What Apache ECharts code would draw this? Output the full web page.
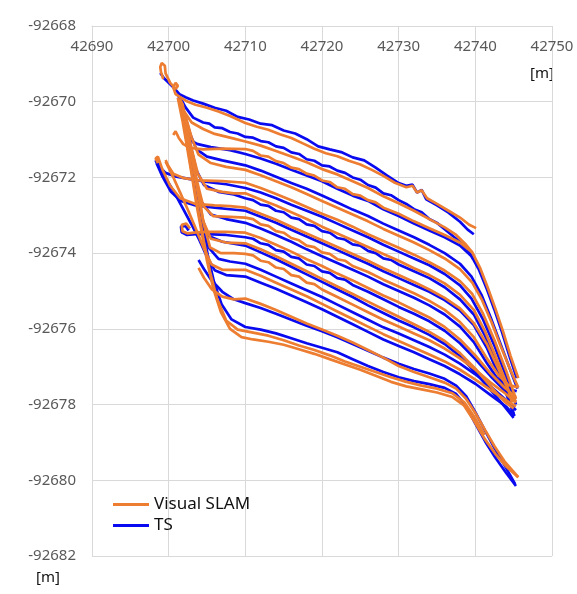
<!DOCTYPE html>
<html>
<head>
<meta charset="utf-8">
<script src="https://cdn.jsdelivr.net/npm/echarts@6/dist/echarts.min.js"></script>
<style>html,body{margin:0;padding:0;background:#fff}#chart{width:577px;height:594px}</style>
</head>
<body>
<div id="chart"></div>
<script>
// ---- axis ticks ----
const xTicks = [42690, 42700, 42710, 42720, 42730, 42740, 42750];
const yTicks = [-92682, -92680, -92678, -92676, -92674, -92672, -92670, -92668];
const seriesNames = ['Visual SLAM', 'TS'];

// ---- TS tracks [x, y] in metres ----
const tsTrack1 = [[42698.9,-92669.24],[42699.4,-92669.38],[42700.1,-92669.52],[42700.8,-92669.66],[42701.4,-92669.80],[42702.2,-92669.88],[42703.2,-92669.97],[42704.5,-92670.05],[42706,-92670.16],[42707.5,-92670.24],[42709,-92670.40],[42710.5,-92670.47],[42712,-92670.58],[42713.5,-92670.62],[42715,-92670.76],[42716.5,-92670.84],[42718,-92670.99],[42719.5,-92671.18],[42721,-92671.26],[42722.5,-92671.33],[42724,-92671.47],[42725.5,-92671.55],[42727,-92671.74],[42728.5,-92671.95],[42730,-92672.15],[42731,-92672.22],[42731.8,-92672.19],[42732.4,-92672.40],[42733,-92672.33],[42733.6,-92672.58],[42735,-92672.74],[42736.5,-92672.93],[42738,-92673.17],[42739,-92673.38],[42739.8,-92673.50]];
const tsTrack2 = [[42701.4,-92669.85],[42702.2,-92670.15],[42703.2,-92670.42],[42704.5,-92670.55],[42705.3,-92670.58],[42706,-92670.68],[42707,-92670.70],[42708,-92670.80],[42709,-92670.84],[42710,-92670.93],[42711,-92670.95],[42712,-92671.04],[42713,-92671.07],[42714,-92671.18],[42715,-92671.22],[42716,-92671.34],[42717,-92671.38],[42718,-92671.52],[42719,-92671.56],[42720,-92671.68],[42721,-92671.71],[42722,-92671.82],[42723,-92671.88],[42724,-92672.00],[42725,-92672.06],[42726,-92672.20],[42727,-92672.27],[42728,-92672.42],[42729,-92672.47],[42730,-92672.60],[42731,-92672.70],[42732,-92672.84],[42733,-92672.92],[42734,-92673.10],[42735,-92673.20],[42736,-92673.37],[42737.5,-92673.62],[42739,-92673.90],[42739.7,-92674.15]];
const tsTrack3 = [[42701.9,-92670.54],[42702.2,-92670.80],[42702.8,-92671.02],[42703.8,-92671.12],[42705.5,-92671.20],[42708,-92671.28],[42710,-92671.38],[42712,-92671.50],[42714,-92671.64],[42716,-92671.80],[42718,-92671.95],[42720,-92672.10],[42722,-92672.30],[42724,-92672.48],[42726,-92672.62],[42728,-92672.84],[42730,-92673.02],[42732,-92673.22],[42734,-92673.40],[42736,-92673.58],[42738,-92673.80],[42739.5,-92674.08],[42740.5,-92674.45],[42741.5,-92674.95],[42742.5,-92675.50],[42743.5,-92676.10],[42744.5,-92676.75],[42745.4,-92677.30]];
const tsTrack4 = [[42701.4,-92669.90],[42702.1,-92670.35],[42702.8,-92670.85],[42703.6,-92671.25],[42705,-92671.45],[42707,-92671.55],[42710,-92671.68],[42712,-92671.82],[42714,-92671.98],[42716,-92672.15],[42718,-92672.30],[42720,-92672.48],[42722,-92672.66],[42724,-92672.85],[42726,-92673.02],[42728,-92673.22],[42730,-92673.40],[42732,-92673.58],[42734,-92673.78],[42736,-92674.00],[42738,-92674.28],[42739.5,-92674.62],[42740.8,-92675.10],[42742,-92675.70],[42743.2,-92676.35],[42744.4,-92677.00],[42745.5,-92677.58]];
const tsTrack5 = [[42698.3,-92671.54],[42698.8,-92671.72],[42699.6,-92671.88],[42701,-92671.98],[42703,-92672.05],[42705,-92672.12],[42707.5,-92672.18],[42710,-92672.28],[42712,-92672.40],[42714,-92672.55],[42716,-92672.72],[42718,-92672.88],[42720,-92673.04],[42722,-92673.22],[42724,-92673.40],[42726,-92673.58],[42728,-92673.78],[42730,-92673.96],[42732,-92674.14],[42734,-92674.32],[42736,-92674.55],[42738,-92674.85],[42739.5,-92675.20],[42741,-92675.75],[42742.5,-92676.45],[42744,-92677.25],[42745.3,-92678.00]];
const tsTrack6 = [[42701.5,-92669.95],[42702.2,-92670.55],[42702.9,-92671.20],[42703.6,-92671.80],[42704.6,-92672.20],[42706.5,-92672.38],[42708.5,-92672.45],[42710,-92672.55],[42711,-92672.60],[42712,-92672.72],[42713,-92672.75],[42714,-92672.88],[42715,-92672.92],[42716,-92673.06],[42717,-92673.10],[42718,-92673.24],[42719,-92673.28],[42720,-92673.42],[42721,-92673.46],[42722,-92673.60],[42723,-92673.64],[42724,-92673.77],[42725,-92673.80],[42726,-92673.94],[42727,-92674.00],[42728,-92674.14],[42729,-92674.18],[42730,-92674.30],[42732,-92674.48],[42734,-92674.66],[42736,-92674.90],[42738,-92675.22],[42739.8,-92675.62],[42741.3,-92676.20],[42742.8,-92676.95],[42744,-92677.65],[42745,-92678.25]];
const tsTrack7 = [[42698.4,-92671.62],[42699.2,-92671.98],[42700.3,-92672.38],[42701.6,-92672.62],[42703.5,-92672.74],[42706,-92672.80],[42708,-92672.84],[42710,-92672.88],[42712,-92673.04],[42714,-92673.20],[42716,-92673.38],[42718,-92673.56],[42720,-92673.74],[42722,-92673.92],[42724,-92674.10],[42726,-92674.28],[42728,-92674.48],[42730,-92674.66],[42732,-92674.84],[42734,-92675.02],[42736,-92675.24],[42738,-92675.52],[42739.8,-92675.90],[42741.5,-92676.50],[42743,-92677.20],[42744.2,-92677.80],[42745.1,-92678.30]];
const tsTrack8 = [[42701.4,-92669.95],[42702.1,-92670.65],[42702.8,-92671.35],[42703.5,-92672.05],[42704.3,-92672.65],[42705.5,-92672.98],[42707.5,-92673.10],[42710,-92673.20],[42712,-92673.35],[42714,-92673.52],[42716,-92673.70],[42718,-92673.90],[42720,-92674.08],[42722,-92674.26],[42724,-92674.44],[42726,-92674.62],[42728,-92674.82],[42730,-92675.00],[42732,-92675.18],[42734,-92675.38],[42736,-92675.62],[42738,-92675.94],[42739.8,-92676.35],[42741.5,-92676.90],[42743,-92677.35],[42744.3,-92677.58],[42745.4,-92677.65]];
const tsTrack9 = [[42702.6,-92673.40],[42702.2,-92673.28],[42701.6,-92673.30],[42701.7,-92673.45],[42702.4,-92673.52],[42703.5,-92673.50],[42705,-92673.50],[42707.5,-92673.52],[42710,-92673.58],[42711,-92673.62],[42712,-92673.74],[42713,-92673.78],[42714,-92673.92],[42715,-92673.96],[42716,-92674.10],[42717,-92674.14],[42718,-92674.30],[42719,-92674.34],[42720,-92674.48],[42721,-92674.52],[42722,-92674.66],[42723,-92674.70],[42724,-92674.84],[42726,-92675.02],[42728,-92675.22],[42730,-92675.42],[42732,-92675.60],[42734,-92675.80],[42736,-92676.05],[42738,-92676.38],[42740,-92676.80],[42742,-92677.25],[42743.8,-92677.62],[42745.3,-92677.85]];
const tsTrack10 = [[42701.5,-92669.95],[42702.2,-92670.70],[42702.9,-92671.50],[42703.6,-92672.30],[42704.3,-92673.05],[42705.2,-92673.55],[42707,-92673.70],[42710,-92673.80],[42712,-92673.98],[42714,-92674.16],[42716,-92674.36],[42718,-92674.56],[42720,-92674.76],[42722,-92674.96],[42724,-92675.16],[42726,-92675.38],[42728,-92675.58],[42730,-92675.78],[42732,-92675.96],[42734,-92676.16],[42736,-92676.40],[42738,-92676.72],[42740,-92677.15],[42742,-92677.62],[42743.8,-92678.05],[42745,-92678.35]];
const tsTrack11 = [[42701.6,-92670.00],[42702.3,-92670.80],[42703.0,-92671.60],[42703.7,-92672.40],[42704.4,-92673.20],[42705.2,-92673.85],[42706.5,-92674.15],[42708,-92674.22],[42710,-92674.28],[42712,-92674.44],[42714,-92674.62],[42716,-92674.80],[42718,-92674.98],[42720,-92675.16],[42722,-92675.36],[42724,-92675.56],[42726,-92675.76],[42728,-92675.96],[42730,-92676.12],[42732,-92676.30],[42734,-92676.48],[42736,-92676.68],[42738,-92676.92],[42740,-92677.20],[42742,-92677.52],[42744,-92677.88],[42745.3,-92678.15]];
const tsTrack12 = [[42698.3,-92671.55],[42699.4,-92671.95],[42700.6,-92672.35],[42701.8,-92672.80],[42703,-92673.25],[42704,-92673.65],[42705,-92674.10],[42706,-92674.45],[42707.5,-92674.58],[42710,-92674.62],[42712,-92674.78],[42714,-92674.94],[42716,-92675.12],[42718,-92675.30],[42720,-92675.48],[42722,-92675.68],[42724,-92675.88],[42726,-92676.08],[42728,-92676.28],[42730,-92676.45],[42732,-92676.62],[42734,-92676.80],[42736,-92676.98],[42738,-92677.20],[42740,-92677.45],[42742,-92677.75],[42744,-92678.05],[42745.1,-92678.30]];
const tsTrack13 = [[42703.9,-92674.18],[42704.6,-92674.42],[42705.6,-92674.72],[42707,-92675.02],[42708.5,-92675.22],[42710,-92675.32],[42712,-92675.45],[42714,-92675.60],[42716,-92675.76],[42718,-92675.92],[42720,-92676.06],[42722,-92676.22],[42724,-92676.40],[42726,-92676.58],[42728,-92676.76],[42730,-92676.92],[42732,-92677.06],[42734,-92677.18],[42736,-92677.32],[42737.5,-92677.50],[42738.8,-92677.78],[42740,-92678.20],[42741.3,-92678.70],[42742.5,-92679.15],[42743.8,-92679.60],[42745.2,-92680.10]];
const tsTrack14 = [[42701.3,-92669.85],[42701.9,-92670.40],[42702.5,-92671.10],[42703.1,-92671.80],[42703.7,-92672.55],[42704.4,-92673.30],[42705.1,-92674.05],[42705.9,-92674.75],[42706.9,-92675.35],[42708.2,-92675.75],[42710,-92675.95],[42712,-92676.02],[42714,-92676.12],[42716,-92676.25],[42718,-92676.38],[42720,-92676.50],[42722,-92676.62],[42724,-92676.80],[42726,-92676.98],[42728,-92677.14],[42730,-92677.28],[42732,-92677.38],[42734,-92677.46],[42736,-92677.56],[42737.5,-92677.72],[42738.8,-92678.05],[42740,-92678.50],[42741.3,-92678.98],[42742.6,-92679.40],[42744,-92679.80],[42745.3,-92680.15]];

// ---- Visual SLAM tracks [x, y] in metres ----
const slamTrack1 = [[42699.3,-92669.40],[42699.0,-92669.22],[42698.9,-92669.08],[42699.1,-92668.98],[42699.5,-92669.05],[42699.6,-92669.25],[42700.2,-92669.50],[42700.9,-92669.66],[42701.2,-92669.58],[42700.9,-92669.50],[42700.6,-92669.62],[42700.9,-92669.80],[42701.5,-92669.88],[42702.3,-92669.98],[42703.5,-92670.08],[42705,-92670.16],[42706.5,-92670.26],[42708,-92670.38],[42710,-92670.56],[42711.5,-92670.66],[42713,-92670.74],[42714.5,-92670.86],[42716,-92670.96],[42717.5,-92671.10],[42719,-92671.24],[42720.5,-92671.36],[42722,-92671.44],[42723.5,-92671.56],[42725,-92671.66],[42726.5,-92671.80],[42728,-92671.96],[42729.5,-92672.14],[42731,-92672.26],[42731.8,-92672.22],[42732.4,-92672.40],[42733,-92672.34],[42733.7,-92672.55],[42735,-92672.70],[42736.5,-92672.88],[42738,-92673.06],[42739.2,-92673.25],[42740.1,-92673.34]];
const slamTrack2 = [[42701.2,-92669.90],[42702,-92670.25],[42703,-92670.55],[42704.5,-92670.72],[42706,-92670.85],[42708,-92670.95],[42710,-92671.05],[42712,-92671.16],[42714,-92671.30],[42716,-92671.45],[42718,-92671.60],[42720,-92671.78],[42722,-92671.92],[42724,-92672.10],[42726,-92672.28],[42728,-92672.50],[42730,-92672.68],[42732,-92672.88],[42734,-92673.10],[42736,-92673.32],[42737.5,-92673.52],[42738.8,-92673.78],[42739.6,-92673.98]];
const slamTrack3 = [[42700.6,-92670.88],[42700.9,-92670.78],[42701.3,-92670.95],[42701.9,-92671.12],[42702.8,-92671.22],[42704.5,-92671.26],[42707,-92671.24],[42710,-92671.25],[42711,-92671.30],[42712,-92671.42],[42713,-92671.45],[42714,-92671.57],[42715,-92671.62],[42716,-92671.74],[42717,-92671.78],[42718,-92671.90],[42719,-92671.95],[42720,-92672.08],[42721,-92672.12],[42722,-92672.26],[42723,-92672.30],[42724,-92672.44],[42725,-92672.48],[42726,-92672.60],[42727,-92672.66],[42728,-92672.80],[42730,-92672.96],[42732,-92673.16],[42734,-92673.34],[42736,-92673.52],[42738,-92673.72],[42739.6,-92673.98],[42740.6,-92674.38],[42741.6,-92674.90],[42742.6,-92675.46],[42743.6,-92676.06],[42744.6,-92676.72],[42745.6,-92677.30]];
const slamTrack4 = [[42701.5,-92669.92],[42702.3,-92670.45],[42703.0,-92670.95],[42703.9,-92671.40],[42705.5,-92671.62],[42707.5,-92671.72],[42710,-92671.80],[42712,-92671.94],[42714,-92672.10],[42716,-92672.26],[42718,-92672.44],[42720,-92672.62],[42722,-92672.80],[42724,-92672.98],[42726,-92673.16],[42728,-92673.36],[42730,-92673.54],[42732,-92673.72],[42734,-92673.92],[42736,-92674.14],[42738,-92674.42],[42739.6,-92674.78],[42740.9,-92675.25],[42742.1,-92675.82],[42743.3,-92676.45],[42744.5,-92677.05],[42745.6,-92677.55]];
const slamTrack5 = [[42699.6,-92671.54],[42699.9,-92671.68],[42700.6,-92671.90],[42702,-92672.02],[42704,-92672.08],[42707,-92672.10],[42710,-92672.14],[42712,-92672.28],[42714,-92672.44],[42716,-92672.60],[42718,-92672.78],[42720,-92672.96],[42722,-92673.12],[42724,-92673.30],[42726,-92673.50],[42728,-92673.68],[42730,-92673.86],[42732,-92674.04],[42734,-92674.24],[42736,-92674.46],[42738,-92674.74],[42739.6,-92675.08],[42741,-92675.60],[42742.5,-92676.30],[42744,-92677.10],[42745.3,-92677.85]];
const slamTrack6 = [[42701.6,-92669.98],[42702.3,-92670.60],[42703.0,-92671.25],[42703.8,-92671.90],[42705,-92672.30],[42707,-92672.38],[42708.5,-92672.42],[42710,-92672.42],[42712,-92672.58],[42714,-92672.74],[42716,-92672.92],[42718,-92673.10],[42720,-92673.30],[42722,-92673.48],[42724,-92673.66],[42726,-92673.84],[42728,-92674.02],[42730,-92674.20],[42732,-92674.40],[42734,-92674.58],[42736,-92674.80],[42738,-92675.10],[42739.8,-92675.50],[42741.3,-92676.08],[42742.8,-92676.80],[42744,-92677.40],[42744.8,-92677.95]];
const slamTrack7 = [[42698.6,-92671.62],[42698.3,-92671.50],[42698.6,-92671.45],[42699.2,-92671.80],[42700.2,-92672.22],[42701.5,-92672.55],[42703.5,-92672.70],[42706,-92672.74],[42708,-92672.76],[42710,-92672.80],[42712,-92672.96],[42714,-92673.12],[42716,-92673.30],[42718,-92673.48],[42720,-92673.66],[42722,-92673.84],[42724,-92674.02],[42726,-92674.20],[42728,-92674.40],[42730,-92674.58],[42732,-92674.76],[42734,-92674.96],[42736,-92675.18],[42738,-92675.46],[42739.8,-92675.85],[42741.5,-92676.40],[42743,-92677.05],[42744.3,-92677.62],[42745.3,-92677.92]];
const slamTrack8 = [[42701.6,-92670.00],[42702.3,-92670.70],[42703.0,-92671.40],[42703.7,-92672.10],[42704.5,-92672.75],[42705.8,-92673.02],[42708,-92673.04],[42710,-92673.06],[42711,-92673.10],[42712,-92673.24],[42713,-92673.28],[42714,-92673.42],[42715,-92673.46],[42716,-92673.60],[42717,-92673.66],[42718,-92673.80],[42719,-92673.84],[42720,-92673.98],[42721,-92674.02],[42722,-92674.16],[42723,-92674.20],[42724,-92674.34],[42726,-92674.50],[42728,-92674.70],[42730,-92674.88],[42732,-92675.06],[42734,-92675.26],[42736,-92675.50],[42738,-92675.82],[42739.8,-92676.22],[42741.5,-92676.78],[42743,-92677.22],[42744.3,-92677.48],[42745.6,-92677.55]];
const slamTrack9 = [[42702.8,-92673.35],[42702.3,-92673.22],[42701.7,-92673.25],[42701.8,-92673.42],[42702.5,-92673.48],[42703.6,-92673.45],[42705,-92673.44],[42707.5,-92673.44],[42710,-92673.46],[42712,-92673.60],[42714,-92673.78],[42716,-92673.96],[42718,-92674.16],[42720,-92674.34],[42722,-92674.54],[42724,-92674.72],[42726,-92674.92],[42728,-92675.12],[42730,-92675.30],[42732,-92675.50],[42734,-92675.70],[42736,-92675.95],[42738,-92676.28],[42740,-92676.70],[42742,-92677.18],[42743.8,-92677.55],[42745.3,-92677.80]];
const slamTrack10 = [[42701.7,-92670.02],[42702.4,-92670.80],[42703.1,-92671.60],[42703.8,-92672.40],[42704.5,-92673.15],[42705.5,-92673.62],[42707.5,-92673.72],[42710,-92673.74],[42712,-92673.90],[42714,-92674.08],[42716,-92674.28],[42718,-92674.48],[42720,-92674.68],[42722,-92674.88],[42724,-92675.08],[42726,-92675.28],[42728,-92675.48],[42730,-92675.68],[42732,-92675.88],[42734,-92676.08],[42736,-92676.32],[42738,-92676.64],[42740,-92677.05],[42742,-92677.52],[42743.8,-92677.92],[42745,-92678.10]];
const slamTrack11 = [[42701.8,-92670.05],[42702.5,-92670.85],[42703.2,-92671.65],[42703.9,-92672.45],[42704.6,-92673.25],[42705.4,-92673.85],[42706.8,-92674.00],[42708.5,-92674.00],[42710,-92674.02],[42711,-92674.06],[42712,-92674.20],[42713,-92674.24],[42714,-92674.38],[42715,-92674.42],[42716,-92674.58],[42717,-92674.62],[42718,-92674.78],[42719,-92674.82],[42720,-92674.96],[42722,-92675.16],[42724,-92675.36],[42726,-92675.56],[42728,-92675.76],[42730,-92675.94],[42732,-92676.12],[42734,-92676.30],[42736,-92676.52],[42738,-92676.78],[42740,-92677.08],[42742,-92677.42],[42744,-92677.72],[42745.3,-92677.95]];
const slamTrack12 = [[42699.6,-92671.58],[42700.5,-92671.95],[42701.5,-92672.40],[42702.6,-92672.90],[42703.6,-92673.38],[42704.6,-92673.88],[42705.6,-92674.30],[42707,-92674.44],[42710,-92674.44],[42712,-92674.60],[42714,-92674.78],[42716,-92674.96],[42718,-92675.14],[42720,-92675.34],[42722,-92675.54],[42724,-92675.74],[42726,-92675.94],[42728,-92676.14],[42730,-92676.32],[42732,-92676.50],[42734,-92676.68],[42736,-92676.86],[42738,-92677.08],[42740,-92677.34],[42742,-92677.62],[42744,-92677.88],[42745.3,-92678.05]];
const slamTrack13 = [[42703.9,-92674.39],[42704.6,-92674.65],[42705.6,-92674.95],[42707,-92675.15],[42708.5,-92675.22],[42710,-92675.20],[42712,-92675.34],[42714,-92675.50],[42716,-92675.68],[42718,-92675.86],[42720,-92676.02],[42722,-92676.18],[42724,-92676.36],[42726,-92676.56],[42728,-92676.76],[42730,-92676.98],[42732,-92677.14],[42734,-92677.28],[42736,-92677.42],[42737.5,-92677.58],[42738.8,-92677.85],[42740,-92678.22],[42741.3,-92678.68],[42742.5,-92679.10],[42743.8,-92679.50],[42745.6,-92679.92]];
const slamTrack14 = [[42701.2,-92669.90],[42701.8,-92670.50],[42702.4,-92671.20],[42703.0,-92671.92],[42703.6,-92672.68],[42704.3,-92673.45],[42705.0,-92674.20],[42705.8,-92674.92],[42706.8,-92675.55],[42708,-92676.00],[42709.5,-92676.22],[42711,-92676.28],[42713,-92676.34],[42715,-92676.42],[42717,-92676.54],[42719,-92676.66],[42721,-92676.80],[42723,-92676.94],[42725,-92677.08],[42727,-92677.24],[42729,-92677.40],[42731,-92677.52],[42733,-92677.60],[42735,-92677.68],[42737,-92677.80],[42738.5,-92678.02],[42739.8,-92678.42],[42741.2,-92678.90],[42742.6,-92679.30],[42744.1,-92679.65],[42745.6,-92679.92]];
const slamTrack15 = [[42702.0,-92670.60],[42702.6,-92671.35],[42703.2,-92672.10],[42703.9,-92672.90],[42704.6,-92673.70],[42705.4,-92674.50],[42706.3,-92675.20],[42707.5,-92675.78],[42709,-92676.02],[42711,-92676.10],[42713,-92676.18],[42715,-92676.30],[42717,-92676.44],[42719,-92676.56],[42721,-92676.70],[42723,-92676.86],[42725,-92677.00],[42727,-92677.14],[42729,-92677.28],[42731,-92677.40],[42733,-92677.50],[42735,-92677.58],[42737,-92677.70],[42738.6,-92677.95],[42739.8,-92678.30],[42741.2,-92678.80]];

const tsTracks = [tsTrack1, tsTrack2, tsTrack3, tsTrack4, tsTrack5, tsTrack6, tsTrack7, tsTrack8, tsTrack9, tsTrack10, tsTrack11, tsTrack12, tsTrack13, tsTrack14];
const slamTracks = [slamTrack1, slamTrack2, slamTrack3, slamTrack4, slamTrack5, slamTrack6, slamTrack7, slamTrack8, slamTrack9, slamTrack10, slamTrack11, slamTrack12, slamTrack13, slamTrack14, slamTrack15];

const ORANGE = '#ED7D31';
const BLUE = '#0A0AF0';
const FONT = '"Noto Sans", "Liberation Sans", sans-serif';

const series = [];
tsTracks.forEach(function (t) {
  series.push({
    type: 'line', name: seriesNames[1], data: t, symbol: 'none', showSymbol: false,
    lineStyle: { width: 2.7, color: BLUE }, itemStyle: { color: BLUE }, z: 2, silent: true
  });
});
slamTracks.forEach(function (t) {
  series.push({
    type: 'line', name: seriesNames[0], data: t, symbol: 'none', showSymbol: false,
    lineStyle: { width: 2.7, color: ORANGE }, itemStyle: { color: ORANGE }, z: 3, silent: true
  });
});

const plain = function (v) { return String(v); };

const chart = echarts.init(document.getElementById('chart'));
chart.setOption({
  animation: false,
  backgroundColor: '#fff',
  grid: { left: 92, right: 25, top: 26, bottom: 38, containLabel: false },
  legend: {
    data: [
      { name: seriesNames[0], itemStyle: { color: ORANGE } },
      { name: seriesNames[1], itemStyle: { color: BLUE } }
    ],
    orient: 'vertical', left: 108, top: 491, itemGap: 4,
    icon: 'rect', itemWidth: 36, itemHeight: 3,
    textStyle: { fontSize: 17, color: '#111', fontFamily: FONT },
    selectedMode: false
  },
  xAxis: {
    type: 'value', position: 'top',
    min: xTicks[0], max: xTicks[xTicks.length - 1], interval: 10,
    axisLine: { show: true, lineStyle: { color: '#d9d9d9', width: 1 } },
    axisTick: { show: false },
    axisLabel: { inside: true, margin: 13, fontSize: 15, color: '#595959', fontFamily: FONT, formatter: plain },
    splitLine: { show: true, lineStyle: { color: '#d9d9d9', width: 1 } }
  },
  yAxis: {
    type: 'value',
    min: yTicks[0], max: yTicks[yTicks.length - 1], interval: 2,
    axisLine: { show: true, lineStyle: { color: '#d9d9d9', width: 1 } },
    axisTick: { show: false },
    axisLabel: { margin: 16, fontSize: 15, color: '#595959', fontFamily: FONT, formatter: plain },
    splitLine: { show: true, lineStyle: { color: '#d9d9d9', width: 1 } }
  },
  graphic: [
    { type: 'text', left: 530, top: 66, style: { text: '[m]', fontSize: 15, fill: '#111', fontFamily: FONT } },
    { type: 'text', left: 36, top: 570, style: { text: '[m]', fontSize: 15, fill: '#111', fontFamily: FONT } }
  ],
  series: series
});
</script>
</body>
</html>
